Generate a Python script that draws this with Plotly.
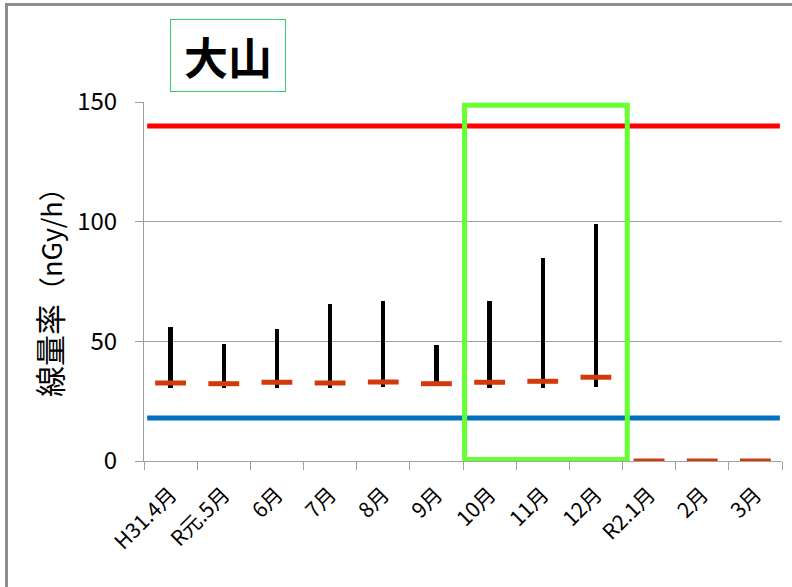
import plotly.graph_objects as go

months = ["H31.4月", "R元.5月", "6月", "7月", "8月", "9月", "10月", "11月", "12月", "R2.1月", "2月", "3月"]
max_vals = [56, 49, 55, 65.5, 67, 48.5, 66.7, 84.8, 99, None, None, None]
min_vals = [30.5, 30.5, 30.5, 30.5, 31, 31.5, 30.5, 30.5, 31, None, None, None]
mean_vals = [32.6, 32.3, 32.9, 32.6, 33, 32.3, 32.9, 33.3, 35, 0, 0, 0]
upper_ref = 140
lower_ref = 18
y_ticks = [0, 50, 100, 150]

font_family = "Noto Sans CJK JP, Noto Sans, sans-serif"

L, T, R, B = 144, 102, 10, 126
W, H = 792, 587

def px_to_paper_x(px):
    return (px - L) / (W - L - R)

def px_to_paper_y(py):
    return (H - B - py) / (H - T - B)

fig = go.Figure()

fig.add_trace(go.Bar(
    x=months,
    y=[(a - b) if a is not None else None for a, b in zip(max_vals, min_vals)],
    base=min_vals,
    width=0.08,
    marker=dict(color="black", line=dict(width=0)),
    hoverinfo="skip",
    showlegend=False,
))

fig.add_trace(go.Scatter(
    x=months,
    y=mean_vals,
    mode="markers",
    marker=dict(symbol="line-ew", size=22, line=dict(width=5, color="#d23a0a")),
    showlegend=False,
))

# Reference lines
fig.add_shape(type="line", xref="x", yref="y", x0=-0.44, x1=11.46, y0=upper_ref, y1=upper_ref,
              line=dict(color="#ff0000", width=5), layer="above")
fig.add_shape(type="line", xref="x", yref="y", x0=-0.44, x1=11.46, y0=lower_ref, y1=lower_ref,
              line=dict(color="#0070c0", width=5), layer="above")

# Highlight box (10月–12月)
fig.add_shape(type="rect", xref="x", yref="y", x0=5.53, x1=8.59, y0=0.6, y1=148.6,
              line=dict(color="#66ff33", width=5), layer="above")

# Outer frame
fig.add_shape(type="rect", xref="paper", yref="paper",
              x0=px_to_paper_x(6.5), x1=px_to_paper_x(840),
              y0=px_to_paper_y(640), y1=px_to_paper_y(4.5),
              line=dict(color="#8c8c8c", width=3))

# Title box
fig.add_annotation(
    text="<b>大山</b>", xref="paper", yref="paper",
    x=px_to_paper_x(228), y=px_to_paper_y(55.5), xanchor="center", yanchor="middle",
    showarrow=False, font=dict(size=44, color="black", family=font_family),
    bordercolor="#33cc66", borderwidth=1, width=112, height=69,
)

# Y axis title
fig.add_annotation(
    text="<span style='font-size:31px'>線量率</span>（nGy/h）", xref="paper", yref="paper",
    x=px_to_paper_x(48), y=px_to_paper_y(286), xanchor="center", yanchor="middle",
    showarrow=False, textangle=-90, font=dict(size=27, color="black", family=font_family),
)

fig.update_layout(
    width=W, height=H,
    margin=dict(l=L, r=R, t=T, b=B),
    plot_bgcolor="white", paper_bgcolor="white",
    font=dict(family=font_family, color="black"),
    bargap=0,
    xaxis=dict(
        type="category", tickson="boundaries", ticks="outside", ticklen=8,
        tickcolor="#a0a0a0", showline=True, linecolor="#a0a0a0", linewidth=1,
        showgrid=False, tickangle=-45, tickfont=dict(size=21),
        ticklabelstandoff=12, range=[-0.5, 11.5],
    ),
    yaxis=dict(
        range=[0, 150], tickvals=y_ticks, ticks="outside", ticklen=8,
        tickcolor="#a0a0a0", showline=True, linecolor="#a0a0a0", linewidth=1,
        showgrid=True, gridcolor="#a0a0a0", gridwidth=1, zeroline=False,
        tickfont=dict(size=24), ticklabelstandoff=13,
    ),
)

fig.write_html("out.html", config={"displayModeBar": False},
               post_script="document.body.style.margin='0';")
